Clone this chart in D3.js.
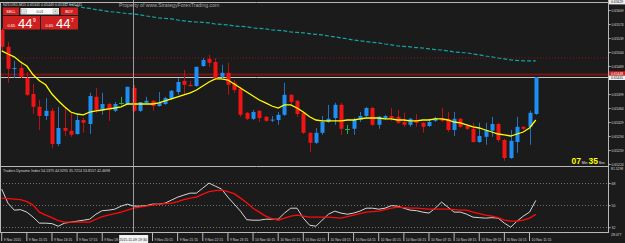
<!DOCTYPE html>
<html>
<head>
<meta charset="utf-8">
<script src="https://cdn.jsdelivr.net/npm/d3@7"></script>
<style>
  body { margin: 0; background: #1b1b1b; }
  svg { display: block; font-family: "Liberation Sans", Arial, sans-serif; }
</style>
</head>
<body>
<svg id="chart" width="625" height="243"></svg>
<script>
// NZDUSD M15 bars, 9 Nov 14:15 .. 10 Nov 11:30
const opens = [0.65559,0.65517,0.65462,0.65464,0.65439,0.65399,0.65367,0.65344,0.65357,0.65274,
  0.65314,0.65307,0.65299,0.65334,0.65324,0.65392,0.65359,0.65374,0.65357,0.65377,
  0.65374,0.65414,0.65357,0.65377,0.65382,0.65369,0.65374,0.65387,0.65404,0.65432,
  0.65422,0.65419,0.65469,0.65487,0.65479,0.65442,0.65452,0.65427,0.65412,0.65352,
  0.65337,0.65357,0.65342,0.65334,0.65334,0.65347,0.65397,0.65382,0.65352,0.65302,
  0.65277,0.65302,0.65329,0.65339,0.65372,0.65312,0.65312,0.65334,0.65344,0.65364,
  0.65322,0.65339,0.65344,0.65342,0.65329,0.65322,0.65334,0.65327,0.65319,0.65332,
  0.65339,0.65337,0.65309,0.65337,0.65319,0.65312,0.65279,0.65292,0.65307,0.65324,
  0.65284,0.65239,0.65279,0.65317,0.65317,0.65349];
const highs = [0.65564,0.65529,0.65482,0.65482,0.65454,0.65424,0.65384,0.65389,0.65364,0.65367,
  0.65367,0.65352,0.65347,0.65339,0.65402,0.65414,0.65402,0.65377,0.65379,0.65392,
  0.65417,0.65422,0.65379,0.65392,0.65384,0.65404,0.65392,0.65409,0.65439,0.65459,
  0.65432,0.65467,0.65489,0.65497,0.65489,0.65472,0.65477,0.65434,0.65417,0.65354,
  0.65359,0.65359,0.65344,0.65344,0.65354,0.65427,0.65399,0.65384,0.65354,0.65304,
  0.65314,0.65344,0.65372,0.65377,0.65377,0.65322,0.65339,0.65354,0.65367,0.65367,
  0.65344,0.65347,0.65364,0.65359,0.65352,0.65339,0.65349,0.65329,0.65337,0.65342,
  0.65364,0.65354,0.65354,0.65339,0.65322,0.65327,0.65327,0.65327,0.65342,0.65327,
  0.65287,0.65309,0.65342,0.65319,0.65357,0.65441];
const lows = [0.65504,0.65427,0.65439,0.65439,0.65394,0.65349,0.65309,0.65334,0.65264,0.65269,
  0.65294,0.65292,0.65297,0.65302,0.65299,0.65352,0.65347,0.65332,0.65354,0.65372,
  0.65372,0.65354,0.65354,0.65377,0.65357,0.65367,0.65372,0.65384,0.65397,0.65397,
  0.65417,0.65417,0.65467,0.65467,0.65434,0.65439,0.65397,0.65402,0.65342,0.65334,
  0.65334,0.65329,0.65329,0.65329,0.65322,0.65344,0.65372,0.65342,0.65299,0.65254,
  0.65274,0.65297,0.65327,0.65322,0.65297,0.65299,0.65297,0.65329,0.65342,0.65319,
  0.65312,0.65334,0.65332,0.65324,0.65317,0.65317,0.65317,0.65302,0.65317,0.65329,
  0.65329,0.65304,0.65294,0.65314,0.65309,0.65277,0.65277,0.65272,0.65292,0.65279,
  0.65232,0.65237,0.65252,0.65309,0.65272,0.65347];
const closes = [0.65517,0.65462,0.65464,0.65442,0.65397,0.65367,0.65344,0.65357,0.65274,0.65314,
  0.65307,0.65297,0.65334,0.65327,0.65394,0.65359,0.65374,0.65359,0.65374,0.65377,
  0.65417,0.65357,0.65379,0.65382,0.65369,0.65377,0.65389,0.65407,0.65429,0.65422,
  0.65419,0.65467,0.65484,0.65477,0.65439,0.65452,0.65422,0.65409,0.65347,0.65337,
  0.65354,0.65339,0.65332,0.65335,0.65347,0.65397,0.65379,0.65349,0.65302,0.65277,
  0.65302,0.65329,0.65337,0.65372,0.65312,0.65312,0.65334,0.65344,0.65364,0.65322,
  0.65342,0.65344,0.65339,0.65327,0.65322,0.65337,0.65327,0.65317,0.65329,0.65339,
  0.65332,0.65309,0.65337,0.65317,0.65312,0.65279,0.65294,0.65309,0.65324,0.65284,
  0.65239,0.65282,0.65317,0.65312,0.65352,0.65441];

// yellow fast MA
const maFast = [0.65507,0.65499,0.65492,0.65479,0.65469,0.65447,0.65432,0.65422,0.65399,0.65382,
  0.65367,0.65354,0.65349,0.65347,0.65354,0.65357,0.65359,0.65362,0.65364,0.65367,
  0.65374,0.65374,0.65374,0.65374,0.65374,0.65377,0.65382,0.65387,0.65392,0.65397,
  0.65402,0.65409,0.65419,0.65429,0.65437,0.65437,0.65434,0.65424,0.65414,0.65404,
  0.65394,0.65384,0.65377,0.65369,0.65364,0.65372,0.65372,0.65364,0.65354,0.65342,
  0.65334,0.65332,0.65332,0.65332,0.65332,0.65334,0.65334,0.65337,0.65339,0.65339,
  0.65339,0.65337,0.65337,0.65334,0.65334,0.65332,0.65332,0.65334,0.65334,0.65337,
  0.65337,0.65334,0.65329,0.65327,0.65322,0.65317,0.65314,0.65309,0.65304,0.65299,
  0.65297,0.65294,0.65299,0.65304,0.65314,0.65334];
// teal dashed slow MA (enters the window from the top)
const maSlow = [null,null,null,null,null,null,null,0.65634,0.65632,0.65629,
  0.65627,0.65623,0.65619,0.65615,0.65613,0.65610,0.65608,0.65605,0.65604,0.65602,
  0.65600,0.65599,0.65597,0.65594,0.65592,0.65589,0.65588,0.65587,0.65584,0.65582,
  0.65580,0.65579,0.65578,0.65577,0.65574,0.65573,0.65572,0.65569,0.65568,0.65567,
  0.65564,0.65563,0.65562,0.65559,0.65558,0.65557,0.65554,0.65553,0.65552,0.65550,
  0.65548,0.65547,0.65544,0.65542,0.65539,0.65537,0.65534,0.65532,0.65530,0.65528,
  0.65527,0.65524,0.65522,0.65519,0.65518,0.65517,0.65515,0.65514,0.65512,0.65510,
  0.65509,0.65507,0.65504,0.65503,0.65502,0.65499,0.65497,0.65494,0.65492,0.65489,
  0.65487,0.65484,0.65483,0.65482,0.65482,0.65482];

// Traders Dynamic Index
const tdiPrice = [63.1,51.6,45.9,46.3,44.3,40.2,35.3,35.3,34.9,32.8,
  35.3,36.1,36.9,37.7,38.5,42.6,45.5,45.9,46.7,49.2,
  50.8,49.2,49.2,49.6,50.8,50.8,51.6,54.1,56.5,58.2,
  59.8,59.8,63.9,68.0,65.5,63.1,56.5,50.8,45.1,38.1,
  37.7,37.7,38.5,38.5,38.5,43.5,47.5,47.5,39.4,33.6,
  32.8,37.7,42.6,45.1,43.5,42.6,43.5,45.1,47.5,47.5,
  46.7,47.5,49.6,49.2,47.5,45.9,45.5,44.3,43.5,47.5,
  52.5,48.4,44.3,44.3,42.6,40.2,39.8,39.4,39.8,39.4,
  35.3,32.0,36.9,41.0,44.3,53.8];
const tdiSignal = [55.7,55.3,54.9,54.5,52.9,50.0,44.3,41.8,39.8,37.3,
  36.1,36.1,36.1,36.1,36.1,38.5,40.6,41.8,43.1,44.3,
  45.9,47.5,48.4,49.2,50.0,50.8,51.2,51.6,52.9,54.5,
  55.7,56.5,59.0,61.0,61.9,62.3,61.0,59.4,55.7,52.0,
  47.5,44.3,41.0,39.0,37.7,39.4,41.0,41.8,41.0,40.2,
  40.2,40.2,40.2,39.8,39.4,40.6,41.8,43.1,44.3,44.7,
  45.1,46.3,47.5,48.4,48.0,47.5,47.5,47.1,46.7,46.7,
  46.7,46.7,46.3,45.9,45.9,44.3,43.1,41.8,41.0,39.8,
  37.7,36.9,36.9,37.7,39.4,42.5];
const tdiLevels = [68, 50, 32];

const priceTicks = [0.65609,0.65574,0.65539,0.65504,0.65469,0.65399,0.65364,0.65329,0.65294,0.65259,0.65224];
// the 19:15 tick sits under the crosshair date box, so it is not listed
const timeIdx = [0,4,8,12,16,24,28,32,36,40,44,48,52,56,60,64,68,72,76,80,84];
const timeLabels = ["9 Nov 2015","9 Nov 15:15","9 Nov 16:15","9 Nov 17:15","9 Nov 18:15",
  "9 Nov 20:15","9 Nov 21:15","9 Nov 22:15","9 Nov 23:15","10 Nov 00:15","10 Nov 01:15","10 Nov 02:15",
  "10 Nov 03:15","10 Nov 04:15","10 Nov 05:15","10 Nov 06:15","10 Nov 07:15","10 Nov 08:15",
  "10 Nov 09:15","10 Nov 10:15","10 Nov 11:15"];

const levelPrice = 0.65489;   // dotted red line
const redLinePrice = 0.65448;
const crossIdx = 21;
const crossLabel = "2015.11.09 19:30";

const svg = d3.select("#chart"),
      width = +svg.attr("width"),
      height = +svg.attr("height");

const plotRight = 608, mainTop = 3, mainBottom = 166, tdiBottom = 232;
const bg = "#1b1b1b", border = "#b8b8b8", labelCol = "#d8d8d8";

svg.append("rect").attr("width", width).attr("height", height).attr("fill", bg);

const x = d3.scaleLinear().domain([0, closes.length - 1]).range([1.7, 535.8]);
const y = d3.scaleLinear().domain([0.65219, 0.65629]).range([mainBottom, 2]);
const yTdi = d3.scaleLinear().domain([28.077, 81.5298]).range([tdiBottom, 166.5]);

const defs = svg.append("defs");
defs.append("clipPath").attr("id", "clipMain")
    .append("rect").attr("x", 0).attr("y", mainTop).attr("width", plotRight).attr("height", mainBottom - mainTop);
defs.append("clipPath").attr("id", "clipTdi")
    .append("rect").attr("x", 0).attr("y", mainBottom + 1).attr("width", plotRight).attr("height", tdiBottom - mainBottom - 1);

const main = svg.append("g").attr("clip-path", "url(#clipMain)");

// level lines
main.append("line")
    .attr("x1", 0).attr("x2", plotRight)
    .attr("y1", y(levelPrice)).attr("y2", y(levelPrice))
    .attr("stroke", "#8a1515").attr("stroke-dasharray", "1,2");
main.append("line")
    .attr("x1", 0).attr("x2", plotRight)
    .attr("y1", y(redLinePrice)).attr("y2", y(redLinePrice))
    .attr("stroke", "#7a1414").attr("stroke-width", 2);
const lastClose = closes[closes.length - 1];
main.append("line")
    .attr("x1", 0).attr("x2", plotRight)
    .attr("y1", Math.round(y(lastClose)) + 0.5).attr("y2", Math.round(y(lastClose)) + 0.5)
    .attr("stroke", "#c8c8c8");

// teal slow MA
main.append("path")
    .datum(maSlow)
    .attr("fill", "none")
    .attr("stroke", "#14a3a3")
    .attr("stroke-width", 1.2)
    .attr("stroke-dasharray", "4,2")
    .attr("d", d3.line().defined(d => d != null).x((d, i) => x(i)).y(d => y(d)));

// candles
const bars = closes.map((c, i) => ({ i, o: opens[i], h: highs[i], l: lows[i], c }));
const upCol = "#1e8ff5", downCol = "#f01414", dojiCol = "#25b04a";
const colorOf = d => d.c > d.o ? upCol : (d.c < d.o ? downCol : dojiCol);
const wickOf = d => d.c > d.o ? "#2a6fb8" : (d.c < d.o ? "#b81212" : dojiCol);

main.selectAll("line.wick")
    .data(bars)
    .join("line")
    .attr("class", "wick")
    .attr("x1", d => Math.round(x(d.i)) + 0.5)
    .attr("x2", d => Math.round(x(d.i)) + 0.5)
    .attr("y1", d => y(d.h))
    .attr("y2", d => y(d.l))
    .attr("stroke", wickOf);

main.selectAll("rect.body")
    .data(bars.filter(d => d.o !== d.c))
    .join("rect")
    .attr("class", "body")
    .attr("x", d => Math.round(x(d.i)) - 1.5)
    .attr("width", 4)
    .attr("y", d => y(Math.max(d.o, d.c)))
    .attr("height", d => Math.max(1, Math.abs(y(d.o) - y(d.c))))
    .attr("fill", colorOf);

main.selectAll("line.doji")
    .data(bars.filter(d => d.o === d.c))
    .join("line")
    .attr("class", "doji")
    .attr("x1", d => Math.round(x(d.i)) - 2)
    .attr("x2", d => Math.round(x(d.i)) + 3)
    .attr("y1", d => Math.round(y(d.c)) + 0.5)
    .attr("y2", d => Math.round(y(d.c)) + 0.5)
    .attr("stroke", dojiCol);

// yellow fast MA
main.append("path")
    .datum(maFast)
    .attr("fill", "none")
    .attr("stroke", "#ffff00")
    .attr("stroke-width", 1.3)
    .attr("d", d3.line().x((d, i) => x(i)).y(d => y(d)));

// TDI panel
const tdi = svg.append("g").attr("clip-path", "url(#clipTdi)");

tdi.selectAll("line.lvl")
    .data(tdiLevels)
    .join("line")
    .attr("class", "lvl")
    .attr("x1", 0).attr("x2", plotRight)
    .attr("y1", d => Math.round(yTdi(d)) + 0.5)
    .attr("y2", d => Math.round(yTdi(d)) + 0.5)
    .attr("stroke", "#707070")
    .attr("stroke-dasharray", "1,2");

tdi.append("path")
    .datum(tdiPrice)
    .attr("fill", "none")
    .attr("stroke", "#d6d6d6")
    .attr("stroke-width", 1)
    .attr("d", d3.line().x((d, i) => x(i)).y(d => yTdi(d)));

tdi.append("path")
    .datum(tdiSignal)
    .attr("fill", "none")
    .attr("stroke", "#ff0a0a")
    .attr("stroke-width", 1.3)
    .attr("d", d3.line().x((d, i) => x(i)).y(d => yTdi(d)));

svg.append("text")
    .attr("x", 3).attr("y", 172)
    .attr("fill", labelCol)
    .style("font-size", "3.6px")
    .text("Traders Dynamic Index " + [54.1375, 44.9295, 35.7214, 53.8157, 42.4698].join(" "));

// crosshair
svg.append("line")
    .attr("x1", Math.round(x(crossIdx)) - 0.5).attr("x2", Math.round(x(crossIdx)) - 0.5)
    .attr("y1", 0).attr("y2", tdiBottom)
    .attr("stroke", "#9c9c9c");

// frame
const frame = svg.append("g").attr("stroke", border).attr("fill", "none");
frame.append("line").attr("x1", 0).attr("x2", plotRight).attr("y1", 2.5).attr("y2", 2.5);
frame.append("line").attr("x1", 0.5).attr("x2", 0.5).attr("y1", 2).attr("y2", tdiBottom);
frame.append("line").attr("x1", plotRight + 0.5).attr("x2", plotRight + 0.5).attr("y1", 0).attr("y2", tdiBottom + 0.5);
frame.append("line").attr("x1", 0).attr("x2", plotRight).attr("y1", mainBottom + 0.5).attr("y2", mainBottom + 0.5);
frame.append("line").attr("x1", 0).attr("x2", plotRight + 1).attr("y1", tdiBottom + 0.5).attr("y2", tdiBottom + 0.5);

// price axis
svg.append("g")
    .attr("transform", `translate(${plotRight + 0.5},0)`)
    .call(d3.axisRight(y).tickValues(priceTicks).tickFormat(d3.format(".5f")).tickSize(2).tickPadding(1))
    .call(g => g.select(".domain").remove())
    .call(g => g.selectAll("line").attr("stroke", border))
    .call(g => g.selectAll("text").attr("fill", labelCol).attr("font-family", null).style("font-size", "3.4px"));

// price boxes on the scale
const priceBox = (yy, fill, txtFill, label) => {
  svg.append("rect").attr("x", plotRight + 1).attr("y", yy - 2.2).attr("width", 16).attr("height", 4.4).attr("fill", fill);
  svg.append("text").attr("x", plotRight + 3).attr("y", yy).attr("dy", "0.35em")
      .attr("fill", txtFill).style("font-size", "3.4px").text(label);
};
priceBox(2.2, "#f0f0f0", "#222", d3.format(".5f")(y.domain()[1]));
priceBox(y(redLinePrice) - 1, "#d11a1a", "#fff", d3.format(".5f")(redLinePrice));
priceBox(y(lastClose) + 0.6, "#f0f0f0", "#222", d3.format(".5f")(lastClose));

// TDI scale
svg.append("g")
    .attr("transform", `translate(${plotRight + 0.5},0)`)
    .call(d3.axisRight(yTdi).tickValues(tdiLevels).tickFormat(d3.format("d")).tickSize(2).tickPadding(1))
    .call(g => g.select(".domain").remove())
    .call(g => g.selectAll("line").attr("stroke", border))
    .call(g => g.selectAll("text").attr("fill", labelCol).attr("font-family", null).style("font-size", "3.4px"));
svg.append("text").attr("x", plotRight + 3).attr("y", 170).attr("fill", labelCol).style("font-size", "3.4px")
    .text(yTdi.domain()[1]);
svg.append("text").attr("x", plotRight + 3).attr("y", 235.5).attr("fill", labelCol).style("font-size", "3.4px")
    .text(yTdi.domain()[0]);

// time axis
svg.append("g")
    .attr("transform", `translate(0,${tdiBottom})`)
    .call(d3.axisBottom(x).tickValues(timeIdx).tickFormat((d, k) => timeLabels[k]).tickSize(9))
    .call(g => g.select(".domain").remove())
    .call(g => g.selectAll("line").attr("stroke", border).attr("transform", "translate(-0.5,0)"))
    .call(g => g.selectAll("text")
        .attr("fill", labelCol).attr("font-family", null)
        .attr("text-anchor", "start").attr("x", 1.5).attr("y", 8.6).attr("dy", null)
        .style("font-size", "3.4px"));

svg.append("rect")
    .attr("x", x(crossIdx) - 14.5).attr("y", 235).attr("width", 29).attr("height", 8).attr("fill", "#f2f2f2");
svg.append("text")
    .attr("x", x(crossIdx) - 0.5).attr("y", 240.6).attr("text-anchor", "middle")
    .attr("fill", "#222").style("font-size", "3.6px").text(crossLabel);

// bar timer
const timer = svg.append("text").attr("x", 571.5).attr("y", 163.5);
timer.append("tspan").attr("fill", "#ffff00").style("font-size", "8.5px").style("font-weight", "bold").text("07");
timer.append("tspan").attr("fill", "#e0e0e0").style("font-size", "3.6px").attr("dx", 0.8).text("Min");
timer.append("tspan").attr("fill", "#ffff00").style("font-size", "8.5px").style("font-weight", "bold").attr("dx", 1).text("35");
timer.append("tspan").attr("fill", "#e0e0e0").style("font-size", "3.6px").attr("dx", 0.8).text("Sec");

// header texts
svg.append("text").attr("x", 3).attr("y", 5.8).attr("fill", labelCol).style("font-size", "3.6px")
    .text("NZDUSD,M15  0.65345 0.65449 0.65342 0.65441");
svg.append("text").attr("x", 119).attr("y", 6.6).attr("fill", "#a8a8a8").style("font-size", "5.2px")
    .text("Property of www.StrategyForexTrading.com");

// one-click trading panel
const panel = svg.append("g");
const btnRed = "#cf2020";
panel.append("rect").attr("x", 3).attr("y", 7.5).attr("width", 16).attr("height", 7.5).attr("fill", btnRed);
panel.append("text").attr("x", 11).attr("y", 12.6).attr("text-anchor", "middle").attr("fill", "#fff")
    .style("font-size", "3.8px").text("SELL");
panel.append("rect").attr("x", 60.5).attr("y", 7.5).attr("width", 17.5).attr("height", 7.5).attr("fill", btnRed);
panel.append("text").attr("x", 69.2).attr("y", 12.6).attr("text-anchor", "middle").attr("fill", "#fff")
    .style("font-size", "3.8px").text("BUY");
panel.append("rect").attr("x", 20.5).attr("y", 8).attr("width", 38.5).attr("height", 6.5).attr("fill", "#fafafa");
panel.append("rect").attr("x", 21.5).attr("y", 9).attr("width", 5).attr("height", 4.5).attr("fill", "#e4e4e4").attr("stroke", "#999").attr("stroke-width", 0.4);
panel.append("rect").attr("x", 53).attr("y", 9).attr("width", 5).attr("height", 4.5).attr("fill", "#e4e4e4").attr("stroke", "#999").attr("stroke-width", 0.4);
panel.append("text").attr("x", 24).attr("y", 12.4).attr("text-anchor", "middle").attr("fill", "#222").style("font-size", "3.5px").text("-");
panel.append("text").attr("x", 55.5).attr("y", 12.4).attr("text-anchor", "middle").attr("fill", "#222").style("font-size", "3.5px").text("+");
panel.append("text").attr("x", 40).attr("y", 12.5).attr("text-anchor", "middle").attr("fill", "#333").style("font-size", "3.6px").text("0.01");

const quotes = [
  { x0: 3, big: "44", small: "9" },
  { x0: 41, big: "44", small: "7" }
];
quotes.forEach(q => {
  panel.append("rect").attr("x", q.x0).attr("y", 16).attr("width", 37).attr("height", 13.5).attr("fill", btnRed);
  panel.append("text").attr("x", q.x0 + 4.5).attr("y", 27).attr("fill", "#fff").style("font-size", "4px").text("0.65");
  panel.append("text").attr("x", q.x0 + 15).attr("y", 28.3).attr("fill", "#fff").style("font-size", "13px").text(q.big);
  panel.append("text").attr("x", q.x0 + 30).attr("y", 22).attr("fill", "#fff").style("font-size", "5px").text(q.small);
});
</script>
</body>
</html>
